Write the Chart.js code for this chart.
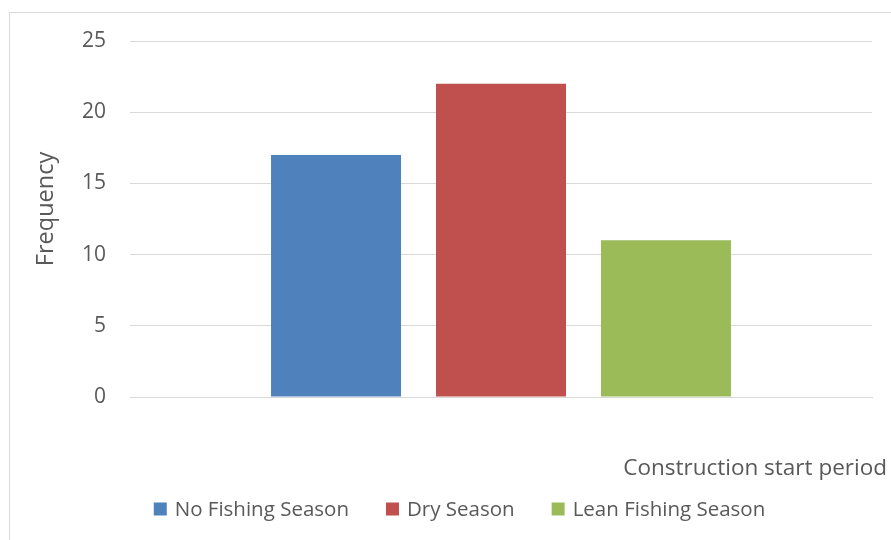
<!DOCTYPE html>
<html>
<head>
<meta charset="utf-8">
<script src="https://cdn.jsdelivr.net/npm/chart.js@4"></script>
<style>
  html, body { margin: 0; padding: 0; background: #fff; overflow: hidden; }
  #wrap { position: relative; width: 891px; height: 540px; }
  #frame { position: absolute; left: 9px; top: 12px; width: 900px; height: 600px; border: 1px solid #d9d9d9; }
  canvas { position: absolute; left: 0; top: 0; }
</style>
</head>
<body>
<div id="wrap">
  <div id="frame"></div>
  <canvas id="chart" width="891" height="540"></canvas>
</div>
<script>
// Frequency of construction start by season (single category, one bar per season)
const categories = [""]
const seriesNames = ["No Fishing Season", "Dry Season", "Lean Fishing Season"]
const seriesValues = [[17], [22], [11]]
const seriesColors = ["#4f81bd", "#c0504d", "#9bbb59"]
const yTicks = [0, 5, 10, 15, 20, 25]
const yTitle = "Frequency"
const xTitle = "Construction start period"

const TEXT = "#595959"
const GRID = "#d9d9d9"
const FONT = '"Open Sans", sans-serif'

// Office-style axis titles and legend, drawn around the plot
const officeLabels = {
  id: "officeLabels",
  afterDraw(chart) {
    const { ctx } = chart
    ctx.save()
    ctx.fillStyle = TEXT
    ctx.textBaseline = "middle"

    // x title, right aligned under the plot
    ctx.font = "22.5px " + FONT
    ctx.textAlign = "right"
    ctx.fillText(xTitle, 887, 469)

    // y title, rotated
    ctx.save()
    ctx.font = "23.5px " + FONT
    ctx.textAlign = "center"
    ctx.translate(46, 209)
    ctx.rotate(-Math.PI / 2)
    ctx.fillText(yTitle, 0, 0)
    ctx.restore()

    // legend
    const box = 13, boxGap = 8, itemGap = 37, cx = 459.5, cy = 509
    ctx.font = "20.5px " + FONT
    ctx.textAlign = "left"
    const items = chart.data.datasets.map(ds => ({
      text: ds.label,
      color: ds.backgroundColor,
      w: ctx.measureText(ds.label).width
    }))
    const total = items.reduce((s, it) => s + box + boxGap + it.w, 0) + itemGap * (items.length - 1)
    let x = cx - total / 2
    items.forEach(it => {
      ctx.fillStyle = it.color
      ctx.fillRect(x, cy - box / 2, box, box)
      ctx.fillStyle = TEXT
      ctx.fillText(it.text, x + box + boxGap, cy + 1)
      x += box + boxGap + it.w + itemGap
    })
    ctx.restore()
  }
}

function draw() {
  Chart.defaults.font.family = FONT
  Chart.defaults.font.size = 20
  Chart.defaults.color = TEXT

  new Chart(document.getElementById("chart"), {
    type: "bar",
    data: {
      labels: categories,
      datasets: seriesNames.map((name, i) => ({
        label: name,
        data: seriesValues[i],
        backgroundColor: seriesColors[i],
        borderWidth: 0,
        categoryPercentage: 0.667,
        barPercentage: 0.788
      }))
    },
    options: {
      responsive: false,
      animation: false,
      layout: { padding: { left: 29, right: 19, top: 41, bottom: 0 } },
      plugins: { legend: { display: false }, tooltip: { enabled: false } },
      scales: {
        x: {
          grid: { display: false },
          border: { color: GRID, width: 1 },
          ticks: { display: false },
          afterFit: scale => { scale.height = 143 }
        },
        y: {
          min: 0,
          max: 25,
          afterBuildTicks: scale => { scale.ticks = yTicks.map(v => ({ value: v })) },
          ticks: { padding: 24, color: TEXT, font: { size: 21 } },
          grid: { color: GRID, lineWidth: 1, drawTicks: false },
          border: { display: false },
          afterFit: scale => { scale.width = 101 }
        }
      }
    },
    plugins: [officeLabels]
  })
}

document.fonts.load('20px "Open Sans"').then(draw, draw)
</script>
</body>
</html>
